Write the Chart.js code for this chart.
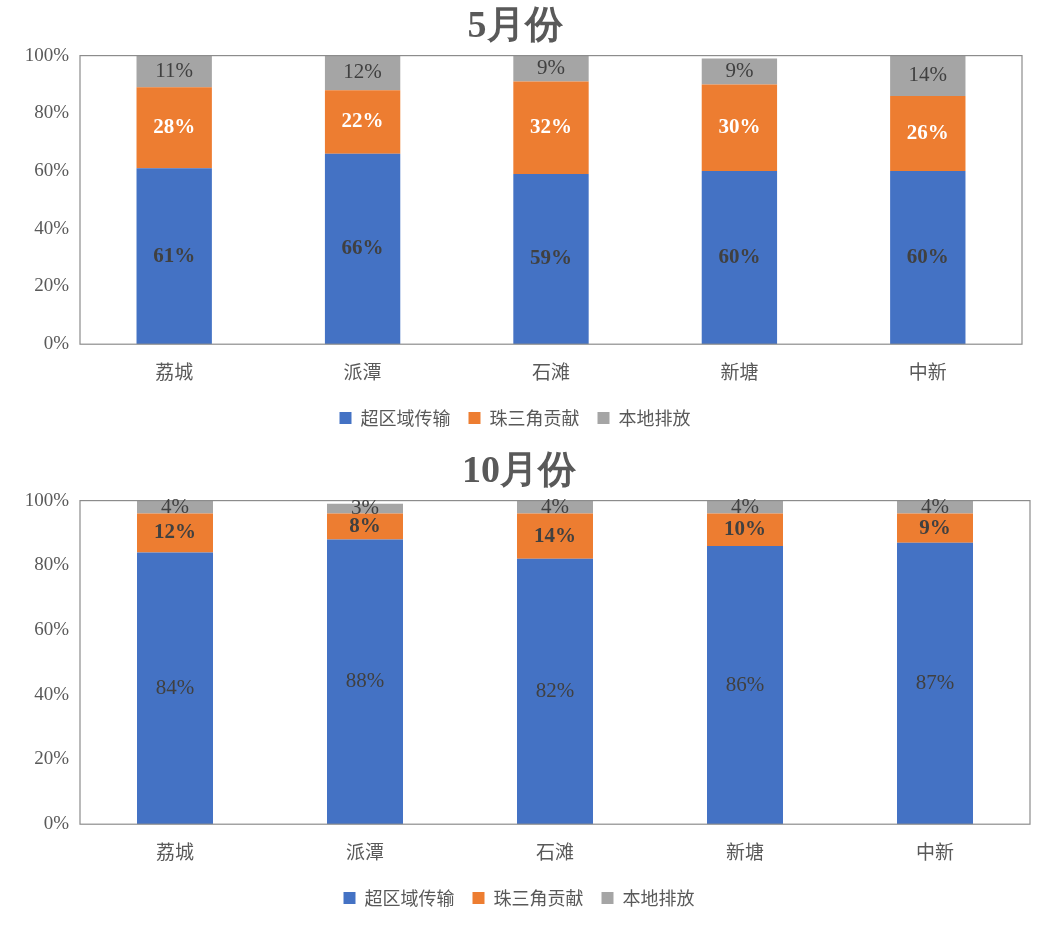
<!DOCTYPE html>
<html><head><meta charset="utf-8">
<script src="https://cdn.jsdelivr.net/npm/chart.js@4/dist/chart.umd.min.js"></script>
<style>body{margin:0;background:#fff;width:1059px;height:925px;overflow:hidden}
#a{position:absolute;left:0;top:0;width:1059px;height:445px}
#b{position:absolute;left:0;top:445px;width:1059px;height:480px}</style>
</head><body>
<div id="a"><canvas id="c1"></canvas></div>
<div id="b"><canvas id="c2"></canvas></div>
<script>
const categories=["荔城","派潭","石滩","新塘","中新"];
const seriesNames=["超区域传输","珠三角贡献","本地排放"];
const mayTrans=[61,66,59,60,60];
const mayPRD=[28,22,32,30,26];
const mayLocal=[11,12,9,9,14];
const octTrans=[84,88,82,86,87];
const octPRD=[12,8,14,10,9];
const octLocal=[4,3,4,4,4];
const colors=["#4472C4","#ED7D31","#A5A5A5"];
const serif="'Liberation Serif','Times New Roman',serif";
const sans="'Noto Sans CJK SC','Noto Sans',sans-serif";

function make(id,title,data,labelStyles,padRight,titlePad){
  const border={id:'bd',afterDatasetsDraw(c){const a=c.chartArea,x=c.ctx;x.save();x.strokeStyle='#8c8c8c';x.lineWidth=1.2;x.strokeRect(a.left,a.top,a.right-a.left,a.bottom-a.top);x.restore();}};
  const lbl={id:'lb',afterDatasetsDraw(c){const x=c.ctx;x.save();x.textAlign='center';x.textBaseline='middle';
    c.data.datasets.forEach((ds,i)=>{const m=c.getDatasetMeta(i);const s=labelStyles[i];
      m.data.forEach((b,j)=>{const cy=(b.y+b.base)/2;x.font=(s.bold?'bold ':'')+'21px '+serif;x.fillStyle=s.color;x.fillText(ds.data[j]+'%',b.x,cy);});});
    x.restore();}};
  new Chart(document.getElementById(id),{type:'bar',
    data:{labels:categories,datasets:data.map((d,i)=>({label:seriesNames[i],data:d,backgroundColor:colors[i],barPercentage:0.8,categoryPercentage:0.5}))},
    options:{responsive:true,maintainAspectRatio:false,animation:false,
      layout:{padding:{left:8,right:padRight,top:4,bottom:8}},
      plugins:{tooltip:{enabled:false},
        title:{display:true,text:title,color:'#595959',font:{family:serif,size:38},padding:{top:0,bottom:titlePad}},
        legend:{position:'bottom',labels:{boxWidth:12,boxHeight:12,color:'#595959',font:{family:sans,size:18},padding:18}}},
      scales:{x:{stacked:true,grid:{display:false},border:{display:false},ticks:{color:'#595959',font:{family:sans,size:19},padding:8}},
        y:{stacked:true,min:0,max:100,grid:{display:false},border:{display:false},afterFit(s){s.width=72;},
          ticks:{stepSize:20,color:'#595959',font:{family:serif,size:19},callback:v=>v+'%'}}}},
    plugins:[border,lbl]});
}
make('c1','5月份',[mayTrans,mayPRD,mayLocal],[{bold:true,color:'#404040'},{bold:true,color:'#fff'},{bold:false,color:'#404040'}],37,6);
make('c2','10月份',[octTrans,octPRD,octLocal],[{bold:false,color:'#404040'},{bold:true,color:'#404040'},{bold:false,color:'#404040'}],29,6);
</script></body></html>
